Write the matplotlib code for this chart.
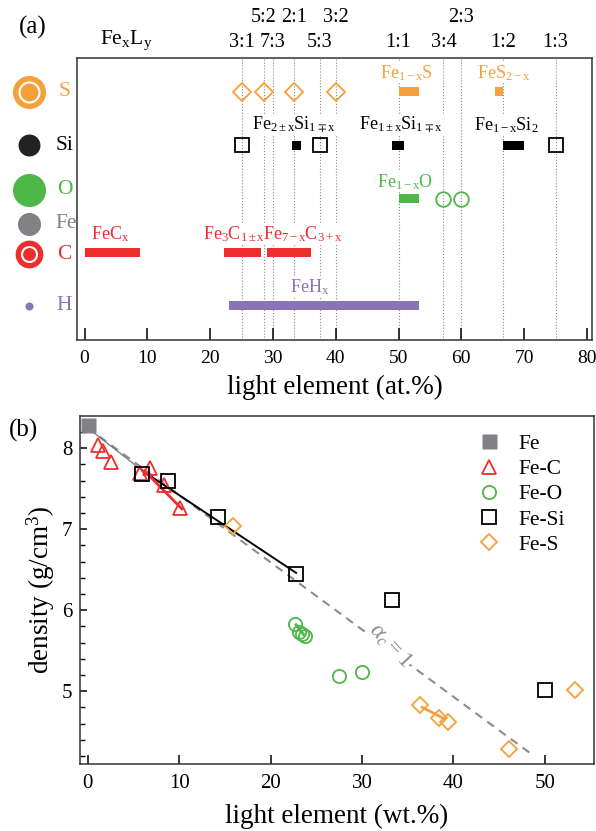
import matplotlib
matplotlib.use('Agg')
import matplotlib.pyplot as plt
import matplotlib.transforms as mtrans

# ========================================
# fontes / estilo
# ========================================
plt.rcParams['font.family'] = ['Liberation Serif', 'DejaVu Serif']
plt.rcParams['mathtext.fontset'] = 'custom'
plt.rcParams['mathtext.rm'] = 'Liberation Serif'
plt.rcParams['mathtext.it'] = 'Liberation Serif:italic'
plt.rcParams['mathtext.fallback'] = 'stix'

c_S = '#F5A03A'
c_Si = 'black'
c_O = '#4DB848'
c_Fe = '#818186'
c_C = '#EE2D2D'
c_H = '#8B73B7'
c_dot = '#8a8a8a'

# ========================================
# dados (a): composicoes Fe-L
# ========================================
rows = ['S', 'Si', 'O', 'C', 'H']
row_y = [5, 4, 3, 2, 1]

ratio_labels = ['3:1', '5:2', '7:3', '2:1', '5:3', '3:2', '1:1', '3:4', '2:3', '1:2', '1:3']
ratio_at = [25.0, 28.57, 30.0, 33.33, 37.5, 40.0, 50.0, 57.14, 60.0, 66.67, 75.0]
ratio_upper = [False, True, False, True, False, True, False, False, True, False, False]

S_diamonds = [25.0, 28.57, 33.33, 40.0]
Si_squares = [25.0, 37.5, 75.0]
O_circles = [57.14, 60.0]

S_lo, S_hi = [50.0, 65.3], [53.2, 66.7]
Si_lo, Si_hi = [33.0, 49.0, 66.6], [34.4, 50.8, 69.9]
O_lo, O_hi = [50.0], [53.2]
C_lo, C_hi = [0.0, 22.2, 29.1], [8.8, 28.1, 36.1]
H_lo, H_hi = [23.0], [53.2]

# ========================================
# dados (b): densidade x elemento leve
# ========================================
Fe_wt, Fe_rho = [0.0], [8.28]
FeC_wt = [1.1, 1.7, 2.6, 5.7, 6.8, 8.4, 10.1]
FeC_rho = [8.04, 7.97, 7.83, 7.69, 7.76, 7.55, 7.26]
FeO_wt = [22.7, 23.1, 23.4, 23.8, 27.5, 30.0]
FeO_rho = [5.83, 5.73, 5.71, 5.68, 5.19, 5.24]
FeSi_wt = [5.9, 8.8, 14.2, 22.8, 33.3, 50.0]
FeSi_rho = [7.68, 7.60, 7.15, 6.44, 6.13, 5.02]
FeS_wt = [15.9, 36.4, 38.4, 39.4, 46.1, 53.3]
FeS_rho = [7.04, 4.83, 4.67, 4.62, 4.28, 5.01]

alpha_wt, alpha_rho = [0.0, 48.7], [8.25, 4.21]
link_wt, link_rho = [0.0, 6.0], [8.25, 7.72]
FeSi_fit_wt, FeSi_fit_rho = [6.0, 22.8], [7.72, 6.46]
FeC_fit_wt, FeC_fit_rho = [6.2, 10.3], [7.72, 7.25]
FeO_fit_wt, FeO_fit_rho = [22.8, 23.6], [5.82, 5.70]
FeS_fit_wt, FeS_fit_rho = [36.6, 39.0], [4.80, 4.66]

# ========================================
# figura
# ========================================
fig = plt.figure(figsize=(5.96, 8.31), dpi=100)
ax1 = fig.add_axes([0.1292, 0.5909, 0.8641, 0.3394])
ax2 = fig.add_axes([0.1334, 0.0806, 0.8633, 0.4191])

for ax in (ax1, ax2):
    for sp in ax.spines.values():
        sp.set_linewidth(1.1)
        sp.set_color('#333333')

# ---------------- painel (a) ----------------
ax1.set_xlim(-1.2, 80.8)
ax1.set_ylim(0.364, 5.636)
ax1.set_yticks([])
ax1.set_xticks(range(0, 81, 10))
ax1.tick_params(axis='x', direction='in', length=9, width=1.1, labelsize=14, pad=7)
ax1.set_xlabel('light element (at.%)', fontsize=19.5, labelpad=6)

for x in ratio_at:
    ax1.axvline(x, color=c_dot, ls=':', lw=0.8, zorder=0.5)

bar_h = 0.17
ax1.barh([5] * len(S_lo), [h - l for l, h in zip(S_lo, S_hi)], left=S_lo, height=bar_h, color=c_S, zorder=3)
ax1.barh([4] * len(Si_lo), [h - l for l, h in zip(Si_lo, Si_hi)], left=Si_lo, height=bar_h, color=c_Si, zorder=3)
ax1.barh([3] * len(O_lo), [h - l for l, h in zip(O_lo, O_hi)], left=O_lo, height=bar_h, color=c_O, zorder=3)
ax1.barh([2] * len(C_lo), [h - l for l, h in zip(C_lo, C_hi)], left=C_lo, height=bar_h, color=c_C, zorder=3)
ax1.barh([1] * len(H_lo), [h - l for l, h in zip(H_lo, H_hi)], left=H_lo, height=bar_h, color=c_H, zorder=3)

ax1.plot(S_diamonds, [5] * len(S_diamonds), 'D', ms=9.5, mfc='none', mec=c_S, mew=1.3, zorder=3)
ax1.plot(Si_squares, [4] * len(Si_squares), 's', ms=10.5, mfc='none', mec=c_Si, mew=1.3, zorder=3)
ax1.plot(O_circles, [3] * len(O_circles), 'o', ms=10.5, mfc='none', mec=c_O, mew=1.3, zorder=3)

wbox = dict(facecolor='white', edgecolor='none', pad=0.5)
phase_txt = [
    (r'$\mathrm{Fe_{1-x}S}$', 51.2, 5.36, c_S),
    (r'$\mathrm{FeS_{2-x}}$', 66.8, 5.36, c_S),
    (r'$\mathrm{Fe_{2\pm x}Si_{1\mp x}}$', 33.4, 4.38, 'black'),
    (r'$\mathrm{Fe_{1\pm x}Si_{1\mp x}}$', 50.4, 4.38, 'black'),
    (r'$\mathrm{Fe_{1-x}Si_2}$', 67.1, 4.38, 'black'),
    (r'$\mathrm{Fe_{1-x}O}$', 51.1, 3.32, c_O),
    (r'$\mathrm{FeC_x}$', 4.0, 2.35, c_C),
    (r'$\mathrm{Fe_3C_{1\pm x}}$', 23.8, 2.35, c_C),
    (r'$\mathrm{Fe_{7-x}C_{3+x}}$', 34.8, 2.35, c_C),
    (r'$\mathrm{FeH_x}$', 35.8, 1.36, c_H),
]
for t, x, y, col in phase_txt:
    ax1.text(x, y, t, color=col, fontsize=13, ha='center', va='center', bbox=wbox, zorder=4)

# razoes Fe:L acima do painel
trans = mtrans.blended_transform_factory(ax1.transData, ax1.transAxes)
for lab, x, up in zip(ratio_labels, ratio_at, ratio_upper):
    ax1.text(x, 1.142 if up else 1.053, lab, transform=trans, fontsize=14.5,
             ha='center', va='center')
ax1.text(6.7, 1.062, r'$\mathrm{Fe_xL_y}$', transform=trans, fontsize=15.5, ha='center', va='center')
fig.text(0.055, 0.967, '(a)', fontsize=18, ha='center', va='center')

# esferas dos elementos (raio relativo)
xs = -8.86
ax1.plot(xs, 5, 'o', ms=23.8, color=c_S, mec='none', clip_on=False)
ax1.plot(xs, 5, 'o', ms=14.4, mfc='none', mec='white', mew=1.5, clip_on=False)
ax1.plot(xs, 4, 'o', ms=15.8, color='#222222', mec='none', clip_on=False)
ax1.plot(xs, 3.17, 'o', ms=23.8, color=c_O, mec='none', clip_on=False)
ax1.plot(xs, 2.53, 'o', ms=16.6, color=c_Fe, mec='none', clip_on=False)
ax1.plot(xs, 1.97, 'o', ms=20.0, color=c_C, mec='none', clip_on=False)
ax1.plot(xs, 1.97, 'o', ms=10.8, mfc='none', mec='white', mew=1.5, clip_on=False)
ax1.plot(xs, 1, 'o', ms=5.8, color=c_H, mec='none', clip_on=False)

xt = -3.2
ax1.text(xt, 5, 'S', color=c_S, fontsize=15.5, ha='center', va='center')
ax1.text(xt, 4, 'Si', color='black', fontsize=15.5, ha='center', va='center')
ax1.text(xt, 3.17, 'O', color=c_O, fontsize=15.5, ha='center', va='center')
ax1.text(xt, 1.97, 'C', color=c_C, fontsize=15.5, ha='center', va='center')
ax1.text(xt, 1, 'H', color=c_H, fontsize=15.5, ha='center', va='center')
# "Fe" fica parcialmente escondido atras do painel
fig.text(55 / 596, 1 - 224 / 831, 'Fe', color=c_Fe, fontsize=15.5, ha='left', va='center', zorder=-1)

# ---------------- painel (b) ----------------
ax2.set_xlim(-0.9, 55.4)
ax2.set_ylim(4.10, 8.40)
ax2.set_xticks(range(0, 51, 10))
ax2.set_yticks([5, 6, 7, 8])
ax2.set_yticks([4.2, 4.4, 4.6, 4.8, 5.2, 5.4, 5.6, 5.8, 6.2, 6.4, 6.6, 6.8,
                7.2, 7.4, 7.6, 7.8, 8.2], minor=True)
ax2.tick_params(axis='x', direction='in', length=6.5, width=1.1, labelsize=15, pad=7)
ax2.tick_params(axis='y', which='major', direction='in', length=5, width=1.1, labelsize=15, pad=5)
ax2.tick_params(axis='y', which='minor', direction='in', length=3.5, width=1.0)
ax2.set_xlabel('light element (wt.%)', fontsize=19.5, labelpad=8)
ax2.set_ylabel(r'density (g/cm$^3$)', fontsize=19.5, labelpad=4)

ax2.plot(alpha_wt, alpha_rho, ls=(0, (4, 3)), color='#8c8c8c', lw=1.5, zorder=1)
ax2.plot(link_wt, link_rho, color='#777777', lw=0.9, zorder=2)
ax2.plot(FeSi_fit_wt, FeSi_fit_rho, color='black', lw=1.4, zorder=2)
ax2.plot(FeC_fit_wt, FeC_fit_rho, color=c_C, lw=2, zorder=2)
ax2.plot(FeO_fit_wt, FeO_fit_rho, color=c_O, lw=2, zorder=2)
ax2.plot(FeS_fit_wt, FeS_fit_rho, color=c_S, lw=2, zorder=2)

ax2.plot(Fe_wt, Fe_rho, 's', ms=10.8, color=c_Fe, mec='none', label='Fe', zorder=3)
ax2.plot(FeC_wt, FeC_rho, '^', ms=10.5, mfc='none', mec=c_C, mew=1.3, ls='none', label='Fe-C', zorder=3)
ax2.plot(FeO_wt, FeO_rho, 'o', ms=9.5, mfc='none', mec=c_O, mew=1.3, ls='none', label='Fe-O', zorder=3)
ax2.plot(FeSi_wt, FeSi_rho, 's', ms=9.5, mfc='none', mec='black', mew=1.3, ls='none', label='Fe-Si', zorder=3)
ax2.plot(FeS_wt, FeS_rho, 'D', ms=8.6, mfc='none', mec=c_S, mew=1.3, ls='none', label='Fe-S', zorder=3)

ax2.text(33.1, 5.56, r'$\alpha_c=1$', color='#8c8c8c', fontsize=17, rotation=-47,
         ha='center', va='center', bbox=dict(facecolor='white', edgecolor='none', pad=0.3))

ax2.legend(loc='upper left', bbox_to_anchor=(0.741, 0.991), frameon=False, fontsize=15.5,
           handlelength=1.2, handletextpad=0.8, labelspacing=0.24, borderpad=0.2)

fig.text(23 / 596, 1 - 430 / 831, '(b)', fontsize=18, ha='center', va='center')

plt.savefig('out.png', dpi=100)
